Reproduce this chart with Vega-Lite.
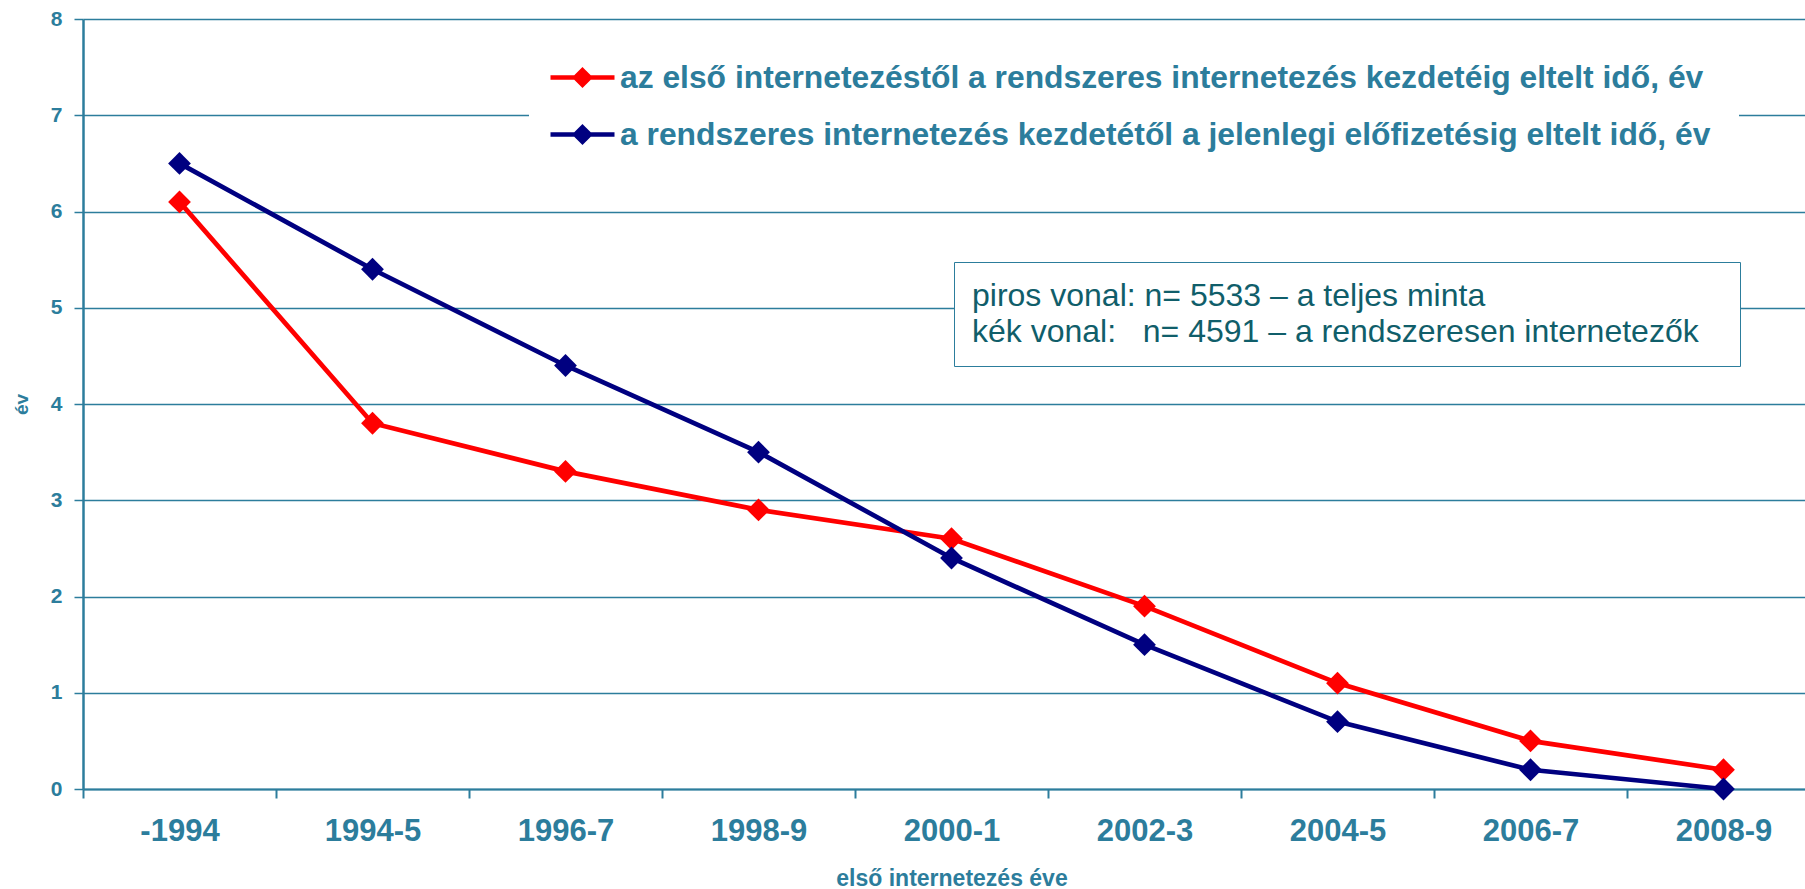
{
  "$schema": "https://vega.github.io/schema/vega-lite/v6.json",
  "width": 1722,
  "height": 770,
  "autosize": {"type": "none"},
  "padding": {"left": 83, "top": 19, "right": 0, "bottom": 100},
  "background": "white",
  "config": {"view": {"stroke": null}, "font": "Liberation Sans"},
  "datasets": {
    "series": [
      {"period": "-1994", "series": "az első internetezéstől a rendszeres internetezés kezdetéig eltelt idő, év", "value": 6.1},
      {"period": "1994-5", "series": "az első internetezéstől a rendszeres internetezés kezdetéig eltelt idő, év", "value": 3.8},
      {"period": "1996-7", "series": "az első internetezéstől a rendszeres internetezés kezdetéig eltelt idő, év", "value": 3.3},
      {"period": "1998-9", "series": "az első internetezéstől a rendszeres internetezés kezdetéig eltelt idő, év", "value": 2.9},
      {"period": "2000-1", "series": "az első internetezéstől a rendszeres internetezés kezdetéig eltelt idő, év", "value": 2.6},
      {"period": "2002-3", "series": "az első internetezéstől a rendszeres internetezés kezdetéig eltelt idő, év", "value": 1.9},
      {"period": "2004-5", "series": "az első internetezéstől a rendszeres internetezés kezdetéig eltelt idő, év", "value": 1.1},
      {"period": "2006-7", "series": "az első internetezéstől a rendszeres internetezés kezdetéig eltelt idő, év", "value": 0.5},
      {"period": "2008-9", "series": "az első internetezéstől a rendszeres internetezés kezdetéig eltelt idő, év", "value": 0.2},
      {"period": "-1994", "series": "a rendszeres internetezés kezdetétől a jelenlegi előfizetésig eltelt idő, év", "value": 6.5},
      {"period": "1994-5", "series": "a rendszeres internetezés kezdetétől a jelenlegi előfizetésig eltelt idő, év", "value": 5.4},
      {"period": "1996-7", "series": "a rendszeres internetezés kezdetétől a jelenlegi előfizetésig eltelt idő, év", "value": 4.4},
      {"period": "1998-9", "series": "a rendszeres internetezés kezdetétől a jelenlegi előfizetésig eltelt idő, év", "value": 3.5},
      {"period": "2000-1", "series": "a rendszeres internetezés kezdetétől a jelenlegi előfizetésig eltelt idő, év", "value": 2.4},
      {"period": "2002-3", "series": "a rendszeres internetezés kezdetétől a jelenlegi előfizetésig eltelt idő, év", "value": 1.5},
      {"period": "2004-5", "series": "a rendszeres internetezés kezdetétől a jelenlegi előfizetésig eltelt idő, év", "value": 0.7},
      {"period": "2006-7", "series": "a rendszeres internetezés kezdetétől a jelenlegi előfizetésig eltelt idő, év", "value": 0.2},
      {"period": "2008-9", "series": "a rendszeres internetezés kezdetétől a jelenlegi előfizetésig eltelt idő, év", "value": 0.0}
    ],
    "notes": [
      {"note": "piros vonal: n= 5533 – a teljes minta", "period": "-1994", "value": 0},
      {"note": "kék vonal:\u00a0\u00a0\u00a0n= 4591 – a rendszeresen internetezők\u2800", "period": "-1994", "value": 0}
    ]
  },
  "layer": [
    {
      "data": {"name": "series"},
      "mark": {"type": "line", "strokeWidth": 4.7, "point": {"shape": "diamond", "size": 520, "filled": true, "opacity": 1}},
      "encoding": {
        "x": {
          "field": "period", "type": "ordinal",
          "sort": ["-1994", "1994-5", "1996-7", "1998-9", "2000-1", "2002-3", "2004-5", "2006-7", "2008-9"],
          "scale": {"type": "band", "range": [0, 1737], "paddingInner": 0, "paddingOuter": 0},
          "axis": {
            "title": "első internetezés éve", "titleFontSize": 23, "titleFontWeight": "bold", "titleColor": "#2C7D9C", "titlePadding": 21,
            "labelFontSize": 31, "labelFontWeight": "bold", "labelColor": "#2C7D9C", "labelPadding": 18, "labelAngle": 0,
            "tickBand": "extent", "tickSize": 9, "tickColor": "#2C7D9C", "tickWidth": 2,
            "domainColor": "#2C7D9C", "domainWidth": 2, "grid": false
          }
        },
        "y": {
          "field": "value", "type": "quantitative",
          "scale": {"domain": [0, 8], "nice": false},
          "axis": {
            "title": "év", "titleFontSize": 19, "titleFontWeight": "bold", "titleColor": "#2C7D9C", "titlePadding": 19,
            "labelFontSize": 21, "labelFontWeight": "bold", "labelColor": "#2C7D9C", "labelPadding": 12, "format": "d",
            "values": [0, 1, 2, 3, 4, 5, 6, 7, 8],
            "tickSize": 9, "tickColor": "#2C7D9C", "tickWidth": 1.5,
            "domainColor": "#2C7D9C", "domainWidth": 2.5,
            "grid": true, "gridColor": "#2C7D9C", "gridWidth": 1.5
          }
        },
        "color": {
          "field": "series", "type": "nominal",
          "scale": {
            "domain": ["az első internetezéstől a rendszeres internetezés kezdetéig eltelt idő, év", "a rendszeres internetezés kezdetétől a jelenlegi előfizetésig eltelt idő, év"],
            "range": ["#FF0000", "#000080"]
          },
          "legend": {
            "title": null, "orient": "none", "legendX": 446, "legendY": 12, "direction": "vertical",
            "fillColor": "white", "padding": 28,
            "symbolType": "M-2,0H2M0,-0.45L0.45,0L0,0.45L-0.45,0Z", "symbolSize": 1024, "symbolStrokeWidth": 4.7,
            "symbolOffset": 7,
            "labelFont": "Liberation Sans", "labelFontWeight": "bold", "labelFontSize": 31.8, "labelColor": "#2C7D9C",
            "labelOffset": 19, "labelLimit": 0, "rowPadding": 21,
            "encode": {"symbols": {"update": {"fill": {"scale": "color", "field": "value"}, "stroke": {"scale": "color", "field": "value"}, "opacity": {"value": 1}}}}
          }
        }
      }
    },
    {
      "data": {"name": "notes"},
      "mark": {"type": "point", "opacity": 0},
      "encoding": {
        "x": {"field": "period", "type": "ordinal", "sort": ["-1994", "1994-5", "1996-7", "1998-9", "2000-1", "2002-3", "2004-5", "2006-7", "2008-9"]},
        "y": {"field": "value", "type": "quantitative"},
        "shape": {
          "field": "note", "type": "nominal",
          "scale": {"domain": ["piros vonal: n= 5533 – a teljes minta", "kék vonal:\u00a0\u00a0\u00a0n= 4591 – a rendszeresen internetezők\u2800"], "range": ["circle", "circle"]},
          "legend": {
            "title": null, "orient": "none", "legendX": 871, "legendY": 243,
            "fillColor": "white", "strokeColor": "#2C7D9C", "padding": 18,
            "symbolSize": 1, "symbolOpacity": 0, "symbolStrokeWidth": 0, "labelOffset": -32,
            "labelFont": "Liberation Sans", "labelFontSize": 32, "labelColor": "#105E6A", "labelLimit": 0, "rowPadding": 4,
            "encode": {"legend": {"update": {"strokeWidth": {"value": 2}}}}
          }
        }
      }
    }
  ]
}
